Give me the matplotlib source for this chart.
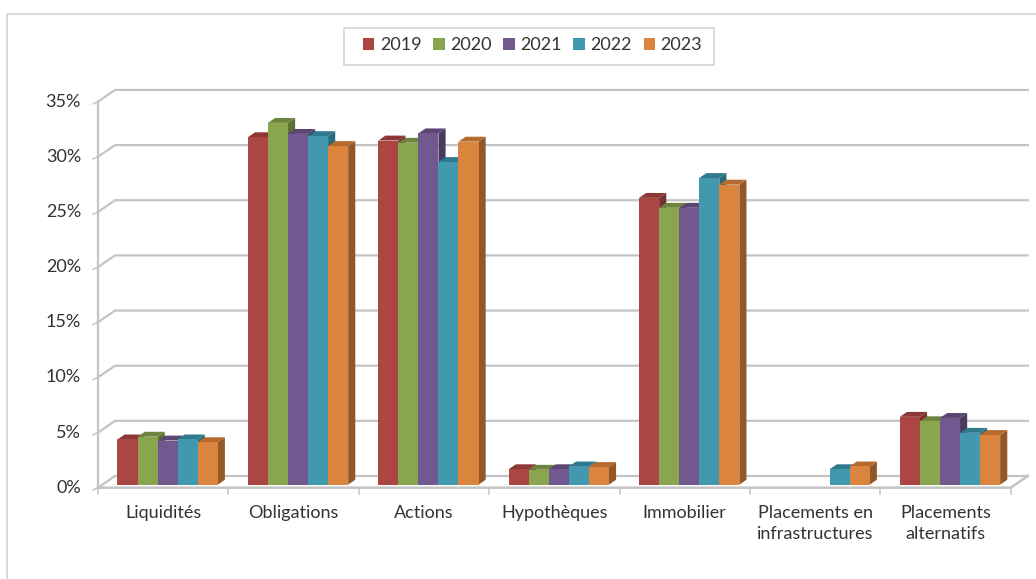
"""Répartition des placements par catégorie, 2019-2023 (barres façon 3D Excel)."""

import matplotlib

matplotlib.use("Agg")
import matplotlib.pyplot as plt
import numpy as np

categories = [
    "Liquidités",
    "Obligations",
    "Actions",
    "Hypothèques",
    "Immobilier",
    "Placements en\ninfrastructures",
    "Placements\nalternatifs",
]
years = ["2019", "2020", "2021", "2022", "2023"]
values_2019 = [4.1, 31.5, 31.2, 1.4, 26.0, np.nan, 6.15]
values_2020 = [4.35, 32.8, 31.0, 1.35, 25.1, np.nan, 5.75]
values_2021 = [4.0, 31.8, 31.85, 1.4, 25.1, np.nan, 6.05]
values_2022 = [4.1, 31.6, 29.25, 1.65, 27.8, 1.4, 4.7]
values_2023 = [3.85, 30.7, 31.1, 1.6, 27.2, 1.65, 4.5]
y_ticks = [0, 5, 10, 15, 20, 25, 30, 35]

SERIES = [values_2019, values_2020, values_2021, values_2022, values_2023]

# face avant, dessus, côté
COLORS = ["#AB4644", "#89A54E", "#71588F", "#4198AF", "#DB843D"]
COLORS_TOP = ["#8C3836", "#6E853D", "#5A4672", "#2F7A8E", "#B56A2E"]
COLORS_SIDE = ["#7A302E", "#5E7234", "#4A3A60", "#286A7C", "#93582A"]
COLOR_GRID = "#C4C4C4"
COLOR_BORDER = "#D4D4D4"
COLOR_TEXT = "#333333"

# repère en pixels de l'image
WIDTH, HEIGHT = 1036, 579
X0_PX, CAT_PX = 98, 130.4      # axe avant et largeur d'une catégorie
Y0_PX, PCT_PX = 487.7, 11.03   # plancher avant et pixels par point de %
DX = 17 / CAT_PX               # décalage du mur du fond
DY = 11.7 / PCT_PX
BAR_W = 20.05 / CAT_PX
BAR_Z = 0.26                   # position des barres dans la profondeur
BAR_D = 0.42                   # profondeur des barres

plt.rcParams["font.family"] = ["Lato", "DejaVu Sans"]

fig = plt.figure(figsize=(WIDTH / 100, HEIGHT / 100), dpi=100, facecolor="white")
ax = fig.add_axes([0, 0, 1, 1])
ax.set_xlim(-X0_PX / CAT_PX, (WIDTH - X0_PX) / CAT_PX)
ax.set_ylim((Y0_PX - HEIGHT) / PCT_PX, Y0_PX / PCT_PX)
ax.axis("off")

n_cat = len(categories)

# cadre du graphique
x_min, x_max = ax.get_xlim()
y_min, y_max = ax.get_ylim()
frame_x = -91 / CAT_PX
frame_top = (Y0_PX - 13.5) / PCT_PX
ax.plot([frame_x, frame_x, x_max], [y_min, frame_top, frame_top], color=COLOR_BORDER, lw=1.2)

# quadrillage : mur du fond, retour à gauche, graduations
for v in y_ticks:
    ax.plot([0, DX, n_cat + DX], [v, v + DY, v + DY], color=COLOR_GRID, lw=1.6, zorder=1, solid_joinstyle="miter")
    ax.plot([-5 / CAT_PX, 0], [v - 0.2, v], color=COLOR_GRID, lw=1.1, zorder=1)
    ax.text(-17 / CAT_PX, v, f"{v}%", ha="right", va="center", fontsize=13, color=COLOR_TEXT)
ax.plot([0, 0], [0, y_ticks[-1]], color=COLOR_GRID, lw=1.6, zorder=1)
ax.plot([0, n_cat, n_cat + DX], [0, 0, DY], color=COLOR_GRID, lw=1.8, zorder=1)

# barres, de gauche à droite pour que chacune recouvre la précédente
base = BAR_Z * DY
shift_x = BAR_Z * DX
depth_x, depth_y = BAR_D * DX, BAR_D * DY
n_series = len(SERIES)
for i in range(n_cat):
    for s in range(n_series):
        v = SERIES[s][i]
        if np.isnan(v):
            continue
        left = i + 0.5 + shift_x + (s - n_series / 2) * BAR_W
        right = left + BAR_W
        top = base + v
        z = 3 + i * n_series + s
        ax.bar(left, v, BAR_W, bottom=base, align="edge", color=COLORS[s], lw=0, zorder=z + 0.2)
        ax.fill(
            [right, right + depth_x, right + depth_x, right],
            [base, base + depth_y, top + depth_y, top],
            color=COLORS_SIDE[s], lw=0, zorder=z,
        )
        ax.fill(
            [left, right, right + depth_x, left + depth_x],
            [top, top, top + depth_y, top + depth_y],
            color=COLORS_TOP[s], lw=0, zorder=z + 0.1,
        )

# axe des catégories
for i in range(n_cat + 1):
    ax.plot([i, i], [0, -6 / PCT_PX], color=COLOR_GRID, lw=1.1, zorder=1)
for i, label in enumerate(categories):
    ax.text(
        i + 0.5, -17.5 / PCT_PX, label, ha="center", va="top",
        fontsize=13, color=COLOR_TEXT, linespacing=1.4,
    )

# légende : le cadre est décalé à gauche des entrées, donc dessiné à part
fig.add_artist(plt.Rectangle(
    (343.5 / WIDTH, 1 - 64.5 / HEIGHT), 370 / WIDTH, 37 / HEIGHT,
    transform=fig.transFigure, facecolor="white", edgecolor=COLOR_BORDER, lw=1.2,
))
handles = [plt.Rectangle((0, 0), 1, 1, color=c, lw=0) for c in COLORS]
fig.legend(
    handles, years, loc="center", bbox_to_anchor=(532.5 / WIDTH, 1 - 45.5 / HEIGHT),
    ncol=len(years), frameon=False, fontsize=13, labelcolor=COLOR_TEXT,
    handlelength=0.62, handleheight=0.62, handletextpad=0.3, columnspacing=0.66,
    borderpad=0, borderaxespad=0,
)

fig.savefig("out.png", dpi=100, facecolor="white")
